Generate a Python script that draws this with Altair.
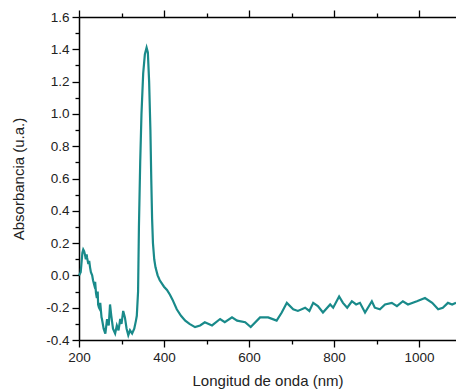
import altair as alt
import pandas as pd

wavelength = [200, 204, 206, 208, 210, 212, 214, 216, 218, 219, 222, 224, 226, 228, 231, 233, 236, 238, 240,
              242, 244, 245, 247, 249, 250, 253, 254, 258, 262, 266, 270, 273, 276, 280, 285, 289, 293, 297,
              300, 304, 308, 312, 316, 320, 325, 330, 334, 336, 339, 341, 344, 347, 351, 355, 359, 362, 365,
              368, 370, 372, 374, 377, 380, 385, 390, 400, 407, 414, 420, 430, 440, 450, 460, 473, 485, 496, 513,
              532, 543, 560, 572, 591, 604, 626, 645, 665, 677, 689, 704, 715, 732, 742, 751, 762, 774, 791,
              798, 812, 821, 831, 842, 852, 861, 873, 889, 896, 908, 920, 936, 948, 962, 974, 995, 1014, 1031,
              1045, 1056, 1068, 1078, 1087]
absorbance = [0.00, 0.02, 0.08, 0.14, 0.16, 0.15, 0.13, 0.10, 0.13, 0.11, 0.07, 0.09, 0.05, 0.02, 0.00, -0.03,
              -0.06, -0.04, -0.11, -0.14, -0.10, -0.18, -0.20, -0.21, -0.17, -0.26, -0.27, -0.33, -0.36, -0.27,
              -0.31, -0.18, -0.25, -0.33, -0.36, -0.31, -0.34, -0.27, -0.30, -0.22, -0.26, -0.33, -0.37, -0.34,
              -0.36, -0.33, -0.28, -0.25, -0.10, 0.30, 0.70, 1.00, 1.25, 1.37, 1.41, 1.38, 1.20, 0.90, 0.60,
              0.35, 0.20, 0.10, 0.05, 0.00, -0.03, -0.07, -0.09, -0.12, -0.15, -0.21, -0.25, -0.28, -0.30, -0.32,
              -0.31, -0.29, -0.31, -0.27, -0.29, -0.26, -0.28, -0.29, -0.32, -0.26, -0.26, -0.28, -0.23, -0.17,
              -0.21, -0.22, -0.20, -0.22, -0.17, -0.19, -0.23, -0.18, -0.20, -0.13, -0.17, -0.20, -0.16, -0.18,
              -0.17, -0.23, -0.16, -0.20, -0.21, -0.18, -0.17, -0.19, -0.16, -0.18, -0.16, -0.14, -0.17, -0.21,
              -0.20, -0.17, -0.18, -0.17]

x_ticks = [200, 300, 400, 500, 600, 700, 800, 900, 1000]
y_ticks = [-0.4, -0.3, -0.2, -0.1, 0.0, 0.1, 0.2, 0.3, 0.4, 0.5, 0.6, 0.7, 0.8, 0.9, 1.0, 1.1, 1.2, 1.3,
           1.4, 1.5, 1.6]

df = pd.DataFrame({"nm": wavelength, "abs": absorbance})

FONT = "Liberation Sans"
x_minor = "round(datum.value/100) % 2 != 0"
y_minor = "round(datum.value*10) % 2 != 0"

x_scale = alt.Scale(domain=[200, 1087], nice=False, zero=False)
y_scale = alt.Scale(domain=[-0.4, 1.6], nice=False, zero=False)

common_axis = dict(domainColor="black", domainWidth=1.5, tickColor="black", tickWidth=1.3,
                   grid=False, labelFont=FONT, labelFontSize=13.5, labelColor="#222",
                   labelOverlap=False,
                   titleFont=FONT, titleFontSize=15, titleFontWeight="normal", titleColor="#222")

y_axis = alt.Axis(values=y_ticks, title="Absorbancia (u.a.)",
                  labelExpr=f"{y_minor} ? '' : replace(format(datum.value, '.1f'), '\u2212', '-')",
                  tickSize={"condition": {"test": y_minor, "value": 4}, "value": 7},
                  labelPadding=3, titlePadding=19, labelFlush=False, **common_axis)

line = alt.Chart(df).mark_line(color="#198a8a", strokeWidth=2.2).encode(
    x=alt.X("nm:Q", scale=x_scale,
            axis=alt.Axis(values=x_ticks, title="Longitud de onda (nm)",
                          labelExpr=f"{x_minor} ? '' : format(datum.value, 'd')",
                          tickSize={"condition": {"test": x_minor, "value": 4}, "value": 7},
                          labelPadding=3, titlePadding=10, labelFlush=False, **common_axis)),
    y=alt.Y("abs:Q", scale=y_scale, axis=y_axis),
)

top = alt.Chart(df).mark_line(opacity=0).encode(
    x=alt.X("nm:Q", scale=x_scale,
            axis=alt.Axis(orient="top", values=x_ticks, labels=False, title=None,
                          tickSize={"condition": {"test": x_minor, "value": 4}, "value": 7},
                          **common_axis)),
    y=alt.Y("abs:Q", scale=y_scale, axis=y_axis),
)

chart = alt.layer(line, top).resolve_axis(x="independent").properties(
    width=377, height=323,
    autosize=alt.AutoSizeParams(type="none"),
    padding={"left": 79, "top": 17, "right": 0, "bottom": 50},
).configure_view(stroke=None).configure(background="white")

chart.save("out.html", embed_options={"renderer": "svg", "actions": False})
